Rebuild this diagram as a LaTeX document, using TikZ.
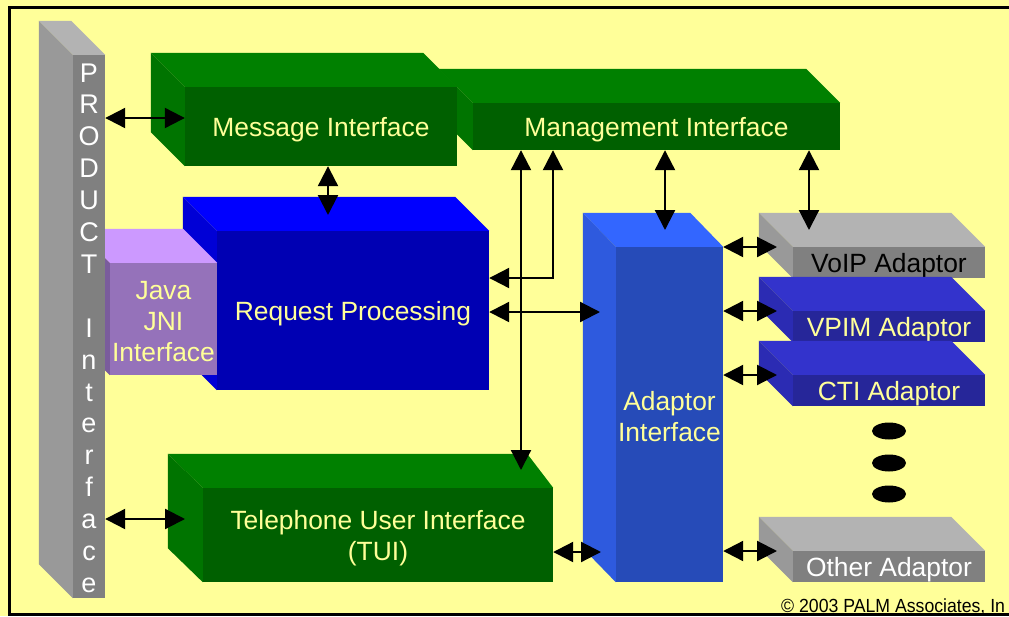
\documentclass[tikz,border=0pt]{standalone}
\usepackage{fontspec}
\usepackage{graphicx}
\setmainfont{Liberation Sans}
\usetikzlibrary{arrows.meta,calc,shapes.geometric}

\definecolor{bg}{HTML}{FFFF99}
\definecolor{txt}{HTML}{FFFF99}
\definecolor{gfront}{HTML}{006000}
\definecolor{gtop}{HTML}{008000}
\definecolor{gside}{HTML}{007400}
\definecolor{bfront}{HTML}{0000B3}
\definecolor{btop}{HTML}{0000FF}
\definecolor{bside}{HTML}{0000D6}
\definecolor{afront}{HTML}{264BB8}
\definecolor{atop}{HTML}{3366FF}
\definecolor{aside}{HTML}{2E5ADE}
\definecolor{jfront}{HTML}{9572BA}
\definecolor{jtop}{HTML}{CC99FF}
\definecolor{jside}{HTML}{7A5C9C}
\definecolor{grfront}{HTML}{808080}
\definecolor{grtop}{HTML}{B3B3B3}
\definecolor{grside}{HTML}{999999}
\definecolor{vfront}{HTML}{262699}
\definecolor{vtop}{HTML}{3333CC}
\definecolor{vside}{HTML}{2B2BB3}

\newcommand{\bigf}{\fontsize{26.4pt}{31pt}\selectfont}
\newcommand{\prodf}{\fontsize{27pt}{31pt}\selectfont}
\newcommand{\copyf}{\fontsize{19pt}{22pt}\selectfont}

% #1 node, #2 dx left, #3 dx right, #4 dy, #5 top colour, #6 side colour
\newcommand{\boxfaces}[6]{%
  \fill[#5] (#1.north west) -- ++(-#2,-#4) -- ($(#1.north east)+(-#3,-#4)$) -- (#1.north east) -- cycle;
  \fill[#6] (#1.north west) -- ++(-#2,-#4) -- ($(#1.south west)+(-#2,-#4)$) -- (#1.south west) -- cycle;
}

\tikzset{
  front/.style={rectangle, inner sep=0pt, draw=none},
  lbl/.style={font=\bigf, text=txt, align=center, inner sep=0pt, yshift=-3pt},
  dbl/.style={{Triangle[length=20pt,width=20pt]}-{Triangle[length=20pt,width=20pt]}, line width=2.2pt, black},
  prodl/.style={font=\prodf, text=white, anchor=base, inner sep=0pt},
  dot/.style={ellipse, fill=black, minimum width=34pt, minimum height=17pt, inner sep=0pt}
}

\begin{document}
\begin{tikzpicture}[x=1pt,y=-1pt]
\path[use as bounding box] (0,0) rectangle (1009,616);
\fill[bg] (0,0) rectangle (1009,616);
\draw[line width=3pt] (1040,7.5) -- (9,7.5) -- (9,614.5) -- (1040,614.5);

% Management Interface
\node[front, fill=gfront, minimum width=367pt, minimum height=47pt,
  label={[lbl]center:Management Interface}] (mgmt) at (656.5,126.5) {};
\boxfaces{mgmt}{34}{34}{34}{gtop}{gside}

% Message Interface
\node[front, fill=gfront, minimum width=272pt, minimum height=79pt,
  label={[lbl]center:Message Interface}] (msg) at (321,126.5) {};
\boxfaces{msg}{34}{34}{34}{gtop}{gside}

% Request Processing
\node[front, fill=bfront, minimum width=272pt, minimum height=159pt,
  label={[lbl]center:Request Processing}] (req) at (353,310.5) {};
\boxfaces{req}{34}{34}{34}{btop}{bside}

% Java JNI Interface
\node[front, fill=jfront, minimum width=107pt, minimum height=112pt,
  label={[lbl]center:{Java\\JNI\\Interface}}] (java) at (163.5,319) {};
\boxfaces{java}{34}{34}{34}{jtop}{jside}

% PRODUCT Interface bar
\node[front, fill=grfront, minimum width=32pt, minimum height=543pt] (prod) at (89,326.5) {};
\boxfaces{prod}{34}{34}{34}{grtop}{grside}
\foreach \ch/\k in {P/0,R/1,O/2,D/3,U/4,C/5,T/6,I/8,n/9,t/10,e/11,r/12,f/13,a/14,c/15,e/16}
  \node[prodl] (pl\k) at (89,{82+31.9*\k}) {\ch};

% Telephone User Interface
\node[front, fill=gfront, minimum width=350pt, minimum height=94pt,
  label={[lbl]center:{Telephone User Interface\\(TUI)}}] (tui) at (378,535) {};
\boxfaces{tui}{35}{26}{34}{gtop}{gside}

% Adaptor Interface
\node[front, fill=afront, minimum width=107pt, minimum height=335pt,
  label={[lbl, yshift=1pt]center:{Adaptor\\Interface}}] (ad) at (669.5,414.5) {};
\boxfaces{ad}{33}{33}{34}{atop}{aside}

% Adaptors
\node[front, fill=grfront, minimum width=192pt, minimum height=31pt,
  label={[lbl, text=black]center:VoIP Adaptor}] (voip) at (889,262.5) {};
\boxfaces{voip}{34}{34}{34}{grtop}{grside}
\node[front, fill=vfront, minimum width=192pt, minimum height=31pt,
  label={[lbl]center:VPIM Adaptor}] (vpim) at (889,326.5) {};
\boxfaces{vpim}{34}{34}{34}{vtop}{vside}
\node[front, fill=vfront, minimum width=192pt, minimum height=31pt,
  label={[lbl]center:CTI Adaptor}] (cti) at (889,390.5) {};
\boxfaces{cti}{34}{34}{34}{vtop}{vside}
\node[front, fill=grfront, minimum width=192pt, minimum height=31pt,
  label={[lbl, text=white]center:Other Adaptor}] (other) at (889,566.5) {};
\boxfaces{other}{34}{34}{34}{grtop}{grside}

% dots
\node[dot] (dot1) at (889,431) {};
\node[dot] (dot2) at (889,463) {};
\node[dot] (dot3) at (889,494) {};

% arrow end points on side/top faces
\coordinate (reqtop) at (328,215);
\coordinate (tuitop) at (521,470);
\coordinate (adside) at (600,312);
\coordinate (adtop) at (665,230);
\coordinate (voiptop) at (809,230);
\coordinate (voipside) at (777,247);
\coordinate (vpimside) at (777,311);
\coordinate (ctiside) at (777,375);
\coordinate (otherside) at (777,551);
\coordinate (tuiside) at (185,519);
\coordinate (adside2) at (601,552);

% connectors
\draw[dbl] (prod.east |- 0,118) -- (msg.west |- 0,118);
\draw[dbl] (msg.south -| reqtop) -- (reqtop);
\draw[dbl] (mgmt.south -| tuitop) -- (tuitop);
\draw[dbl] (mgmt.south -| 553,0) |- (req.east |- 0,278);
\draw[dbl] (req.east |- adside) -- (adside);
\draw[dbl] (mgmt.south -| adtop) -- (adtop);
\draw[dbl] (mgmt.south -| voiptop) -- (voiptop);
\draw[dbl] (ad.east |- voipside) -- (voipside);
\draw[dbl] (ad.east |- vpimside) -- (vpimside);
\draw[dbl] (ad.east |- ctiside) -- (ctiside);
\draw[dbl] (ad.east |- otherside) -- (otherside);
\draw[dbl] (prod.east |- tuiside) -- (tuiside);
\draw[dbl] (tui.east |- adside2) -- (adside2);

% copyright
\node[font=\copyf, anchor=base west, inner sep=0pt] (copy) at (781,612) {\scalebox{0.93}[1]{© 2003 PALM Associates, In}};
\end{tikzpicture}
\end{document}
